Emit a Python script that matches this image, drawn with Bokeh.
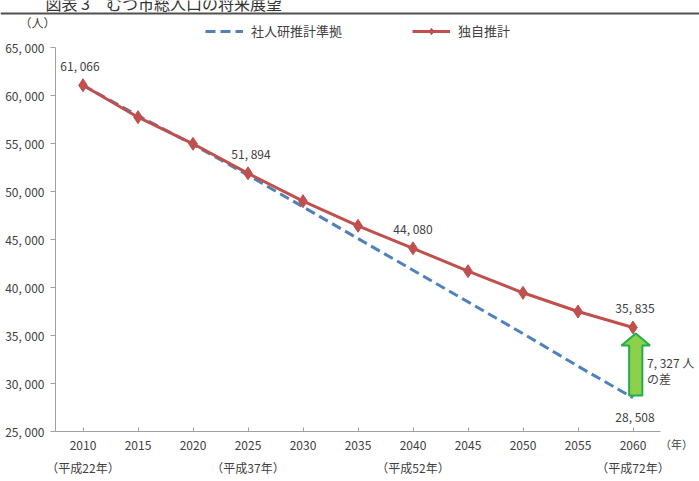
from bokeh.plotting import figure
from bokeh.models import (Range1d, FixedTicker, LinearAxis, Legend, LegendItem,
                          ColumnDataSource)
from bokeh.core.properties import value
from bokeh.embed import file_html
from bokeh.resources import INLINE

# ---- data -------------------------------------------------------------
years = [2010, 2015, 2020, 2025, 2030, 2035, 2040, 2045, 2050, 2055, 2060]
ipss_based = [61066, 57900, 54900, 51700, 48400, 45100, 41800, 38500, 35200, 31800, 28508]
own_estimate = [61066, 57740, 54970, 51894, 48990, 46430, 44080, 41700, 39450, 37500, 35835]

y_ticks = [25000, 30000, 35000, 40000, 45000, 50000, 55000, 60000, 65000]
y_tick_labels = ["25, 000", "30, 000", "35, 000", "40, 000", "45, 000",
                 "50, 000", "55, 000", "60, 000", "65, 000"]
era_years = [2010, 2025, 2040, 2060]
era_labels = ["（平成22年）", "（平成37年）", "（平成52年）", "（平成72年）"]
labelled_years = [2010, 2025, 2040, 2060]

series_names = ["社人研推計準拠", "独自推計"]
title_text = "図表 3　むつ市総人口の将来展望"

FONT = "Noto Sans CJK JP"
TXT = "#404040"
BLUE = "#4F81BD"
RED = "#C0504D"
AXIS = "#A0A0A0"


def fmt(v):
    return f"{v:,}".replace(",", ", ")


# ---- geometry: plotting box inside a full-canvas frame -------------------
W, H = 699, 481
BOX_L, BOX_R, BOX_T, BOX_B = 55, 660, 47, 431      # pixel edges of the axes box
X_LO, X_HI = years[0] - 2.5, years[-1] + 2.5        # half a category of padding
Y_LO, Y_HI = y_ticks[0], y_ticks[-1]
px_x = (BOX_R - BOX_L) / (X_HI - X_LO)
px_y = (BOX_B - BOX_T) / (Y_HI - Y_LO)
x_range = Range1d(X_LO - BOX_L / px_x, X_HI + (W - BOX_R) / px_x)
y_range = Range1d(Y_LO - (H - BOX_B) / px_y, Y_HI + BOX_T / px_y)

p = figure(width=W, height=H, output_backend="svg", toolbar_location=None,
           x_range=x_range, y_range=y_range, title=None,
           x_axis_type=None, y_axis_type=None,
           min_border=0, min_border_left=0, min_border_right=0,
           min_border_top=0, min_border_bottom=0)
p.outline_line_color = None

# y axis
yaxis = LinearAxis(ticker=FixedTicker(ticks=y_ticks), fixed_location=X_LO,
                   bounds=(Y_LO, Y_HI),
                   major_label_overrides=dict(zip(y_ticks, y_tick_labels)))
yaxis.axis_line_color = AXIS
yaxis.major_tick_line_color = AXIS
yaxis.major_tick_out = 5
yaxis.major_tick_in = 0
yaxis.minor_tick_line_color = None
yaxis.major_label_standoff = 6
yaxis.major_label_text_font = FONT
yaxis.major_label_text_font_size = "12px"
yaxis.major_label_text_color = TXT
p.add_layout(yaxis, "left")

# x axis (years)
xaxis = LinearAxis(ticker=FixedTicker(ticks=years), fixed_location=Y_LO,
                   bounds=(X_LO, X_HI),
                   major_label_overrides={y: str(y) for y in years})
xaxis.axis_line_color = AXIS
xaxis.major_tick_line_color = AXIS
xaxis.major_tick_in = 4
xaxis.major_tick_out = 0
xaxis.minor_tick_line_color = None
xaxis.major_label_standoff = 9
xaxis.major_label_text_font = FONT
xaxis.major_label_text_font_size = "12px"
xaxis.major_label_text_color = TXT
p.add_layout(xaxis, "below")

# second row of x labels (Japanese era)
era_axis = LinearAxis(ticker=FixedTicker(ticks=era_years), fixed_location=Y_LO,
                      bounds=(X_LO, X_HI),
                      major_label_overrides=dict(zip(era_years, era_labels)))
era_axis.axis_line_color = None
era_axis.major_tick_line_color = None
era_axis.major_tick_in = 0
era_axis.major_tick_out = 0
era_axis.minor_tick_line_color = None
era_axis.major_label_standoff = 27
era_axis.major_label_text_font = FONT
era_axis.major_label_text_font_size = "12px"
era_axis.major_label_text_color = TXT
p.add_layout(era_axis, "below")

# horizontal dashed grid
p.ygrid.ticker = FixedTicker(ticks=y_ticks[1:])
p.ygrid.bounds = (X_LO, X_HI)
p.ygrid.grid_line_color = "#A6A6A6"
p.ygrid.grid_line_dash = "4 3"
p.xgrid.visible = False

# heading and rule above the chart
rule_y = Y_HI + (BOX_T - 13) / px_y
p.segment(x0=[x_range.start], x1=[x_range.end], y0=[rule_y], y1=[rule_y],
          line_color="#505050", line_width=2)
p.text(x=[x_range.start], y=[rule_y], text=[title_text], x_offset=45, y_offset=-11,
       text_align="left", text_baseline="middle", text_font=value(FONT),
       text_font_size="16px", text_color="#333333")

# series
src = ColumnDataSource(dict(year=years, ipss=ipss_based, own=own_estimate))
blue = p.line("year", "ipss", source=src, line_color=BLUE, line_width=3,
              line_dash="10 5")
red_line = p.line("year", "own", source=src, line_color=RED, line_width=3)
red_pts = p.scatter("year", "own", source=src, marker="diamond", size=13,
                    fill_color=RED, line_color=RED)

# value labels
lab_vals = [own_estimate[years.index(y)] for y in labelled_years]
p.text(x=labelled_years, y=lab_vals, text=[fmt(v) for v in lab_vals],
       text_align="center", text_baseline="middle", y_offset=-20,
       x_offset=[-3, 3, 0, 2],
       text_font=value(FONT), text_font_size="12px", text_color=TXT)
p.text(x=[years[-1]], y=[ipss_based[-1]], text=[fmt(ipss_based[-1])],
       text_align="center", text_baseline="middle", y_offset=19, x_offset=2,
       text_font=value(FONT), text_font_size="12px", text_color=TXT)

# gap arrow between the two 2060 values
gap = own_estimate[-1] - ipss_based[-1]
x0 = years[-1] + 0.25
base = ipss_based[-1] + 250
tip = own_estimate[-1] - 620
neck = tip - 1250
bw, hw = 0.6, 1.3
p.patch(x=[x0 - bw, x0 + bw, x0 + bw, x0 + hw, x0, x0 - hw, x0 - bw],
        y=[base, base, neck, neck, tip, neck, neck],
        fill_color="#8ED04C", line_color="#1FAF4B", line_width=2)

mid = (own_estimate[-1] + ipss_based[-1]) / 2
p.text(x=[years[-1], years[-1]], y=[mid, mid], text=[fmt(gap) + " 人", "の差"],
       text_align="left", text_baseline="middle", x_offset=14, y_offset=[0, 16],
       text_font=value(FONT), text_font_size="12px", text_color=TXT)

# unit captions
p.text(x=[X_LO], y=[Y_HI], text=["（人）"], x_offset=-18, y_offset=-25,
       text_align="center", text_baseline="middle", text_font=value(FONT),
       text_font_size="12px", text_color=TXT)
p.text(x=[X_HI], y=[Y_LO], text=["（年）"], x_offset=16, y_offset=12,
       text_align="center", text_baseline="middle", text_font=value(FONT),
       text_font_size="11px", text_color=TXT)

# legend
legend = Legend(items=[LegendItem(label=series_names[0], renderers=[blue]),
                       LegendItem(label=series_names[1], renderers=[red_line, red_pts])],
                orientation="horizontal", location=(205, H - 32 - 8),
                border_line_color=None, background_fill_alpha=0,
                padding=0, margin=0, spacing=70, glyph_width=38,
                glyph_height=16, label_standoff=8,
                label_text_font=FONT, label_text_font_size="13px",
                label_text_color=TXT)
p.add_layout(legend)

open("out.html", "w").write(file_html(p, INLINE))
